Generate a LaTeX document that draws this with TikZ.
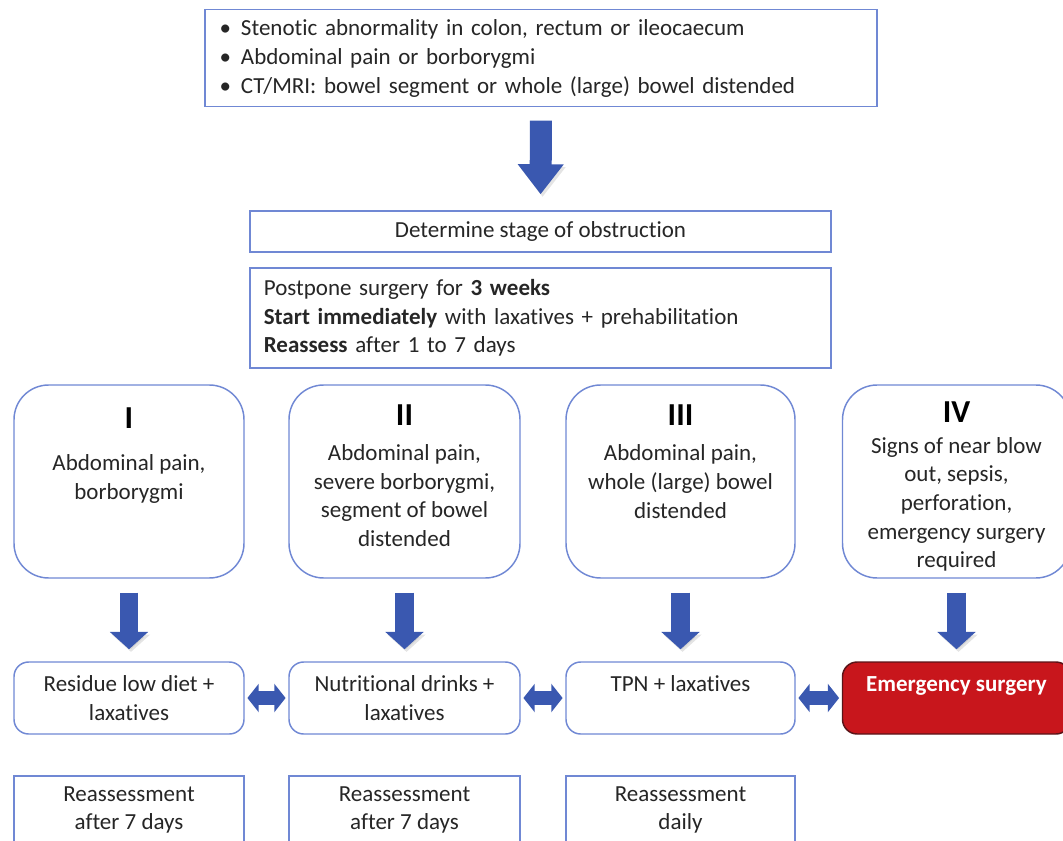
\documentclass[tikz,border=0pt]{standalone}
\usepackage{fontspec}
\setmainfont{Carlito}[Ligatures={NoCommon}]
\usetikzlibrary{arrows.meta}
\definecolor{bord}{RGB}{112,136,212}
\definecolor{arr}{RGB}{58,88,176}
\definecolor{emred}{RGB}{200,22,28}
\definecolor{emdark}{RGB}{90,20,24}
\begin{document}
\begin{tikzpicture}[x=0.75pt,y=-0.75pt,
  txt/.style={font=\fontsize{17.25}{21.5}\selectfont, text=black!85},
  sqbox/.style={draw=bord, line width=1.1pt, fill=white, inner sep=0pt},
  rbox/.style={draw=bord, line width=1.1pt, fill=white, rounded corners=26pt, inner sep=0pt},
  tbox/.style={draw=bord, line width=1.1pt, fill=white, rounded corners=11pt, inner sep=0pt, align=center, txt},
  numeral/.style={font=\fontsize{24}{26}\selectfont\bfseries, text=black},
  bigarr/.style={draw=arr, line width=16.5pt, -{Triangle[length=22.5pt 0 0, width=33pt 0 0]},
     preaction={draw=black!30, opacity=0.35, transform canvas={xshift=1.5pt,yshift=-2pt}}},
  smarr/.style={draw=arr, line width=14pt, -{Triangle[length=13pt 0 0, width=28pt 0 0]},
     preaction={draw=black!30, opacity=0.35, transform canvas={xshift=1.5pt,yshift=-2pt}}},
  dblarr/.style={draw=arr, line width=10pt, {Triangle[length=8.5pt 0 0, width=21pt 0 0]}-{Triangle[length=8.5pt 0 0, width=21pt 0 0]}},
]
\useasboundingbox (0,0) rectangle (1063,841);
\clip (0,0) rectangle (1063,841);

% top box
\node[sqbox, minimum width=504pt, minimum height=72.75pt, font=\fontsize{17.25}{21.75}\selectfont, text=black!85, align=left, text width=482pt] (top) at (541,58)
 {\makebox[16pt][l]{\textbullet}Stenotic abnormality in colon, rectum or ileocaecum\\
  \makebox[16pt][l]{\textbullet}Abdominal pain or borborygmi\\
  \makebox[16pt][l]{\textbullet}CT/MRI: bowel segment or whole (large) bowel distended};

\node[sqbox, minimum width=435.75pt, minimum height=30.75pt, txt] (det) at (540.5,231.5) {Determine stage of obstruction};

\node[sqbox, minimum width=435.75pt, minimum height=75pt, txt, align=left, text width=415pt] (post) at (540.5,318)
 {Postpone surgery for \textbf{3 weeks}\\
  \textbf{Start immediately} with laxatives + prehabilitation\\
  \textbf{Reassess} after 1 to 7 days};

\draw[bigarr, shorten <=10pt, shorten >=12pt] (top.south) -- (det.north);

% stage boxes
\node[rbox, minimum width=172.5pt, minimum height=144.75pt] (s1) at (129,481.5) {};
\node[rbox, minimum width=173.25pt, minimum height=144.75pt] (s2) at (404.5,481.5) {};
\node[rbox, minimum width=171.75pt, minimum height=144.75pt] (s3) at (680.5,481.5) {};
\node[rbox, minimum width=171pt, minimum height=144.75pt] (s4) at (956.5,481.5) {};

\node[numeral] (n1) at (129,418) {I};
\node[txt, align=center] (d1) at (129,479) {Abdominal pain,\\borborygmi};
\node[numeral] (n2) at (404.5,415) {II};
\node[txt, align=center] (d2) at (404.5,495.5) {Abdominal pain,\\severe borborygmi,\\segment of bowel\\distended};
\node[numeral] (n3) at (680.5,415) {III};
\node[txt, align=center] (d3) at (680.5,481.5) {Abdominal pain,\\whole (large) bowel\\distended};
\node[numeral] (n4) at (956.5,412) {IV};
\node[txt, align=center] (d4) at (956.5,504.5) {Signs of near blow\\out, sepsis,\\perforation,\\emergency surgery\\required};

% treatment boxes
\node[tbox, minimum width=172.5pt, minimum height=54pt] (t1) at (129,698) {Residue low diet +\\laxatives};
\node[tbox, minimum width=173.25pt, minimum height=54pt] (t2) at (404.5,698) {Nutritional drinks +\\laxatives};
\node[tbox, minimum width=171.75pt, minimum height=54pt] (t3) at (680.5,698) {TPN + laxatives\\\mbox{}};
\node[tbox, draw=emdark, fill=emred, text=white, font=\fontsize{17.25}{21.5}\selectfont\bfseries, minimum width=171pt, minimum height=54pt] (t4) at (956.5,698) {Emergency surgery\\\mbox{}};

\foreach \i in {1,2,3,4}{
  \draw[smarr, shorten <=10.5pt, shorten >=9pt] (s\i.south) -- (t\i.north);
}
\draw[dblarr, shorten <=2pt, shorten >=2pt] (t1.east) -- (t2.west);
\draw[dblarr, shorten <=2pt, shorten >=2pt] (t2.east) -- (t3.west);
\draw[dblarr, shorten <=2pt, shorten >=2pt] (t3.east) -- (t4.west);

% reassessment boxes
\node[sqbox, minimum width=172.5pt, minimum height=60pt] (r1) at (129,816) {};
\node[sqbox, minimum width=173.25pt, minimum height=60pt] (r2) at (404.5,816) {};
\node[sqbox, minimum width=171.75pt, minimum height=60pt] (r3) at (680.5,816) {};
\node[txt, align=center] (rt1) at (129,810) {Reassessment\\after 7 days};
\node[txt, align=center] (rt2) at (404.5,810) {Reassessment\\after 7 days};
\node[txt, align=center] (rt3) at (680.5,810) {Reassessment\\daily};
\end{tikzpicture}
\end{document}
